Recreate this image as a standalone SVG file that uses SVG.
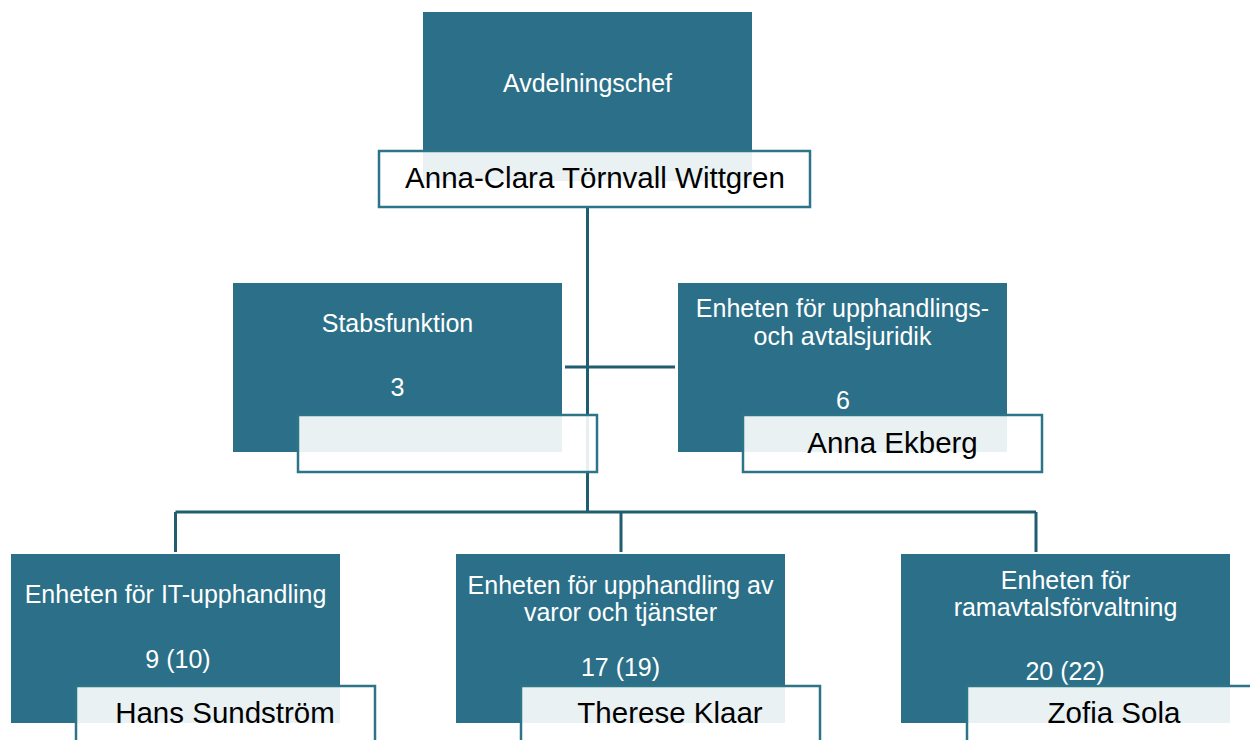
<svg xmlns="http://www.w3.org/2000/svg" width="1250" height="740" viewBox="0 0 1250 740">
<style>
.unit{fill:#2B7088;}
.name{fill:#ffffff;fill-opacity:0.9;stroke:#2C7589;stroke-width:2.5;}
.lbl{font-family:"Liberation Sans",Arial,sans-serif;font-size:25px;fill:#ffffff;text-anchor:middle;}
.nm{font-family:"Liberation Sans",Arial,sans-serif;font-size:29.5px;fill:#000000;text-anchor:middle;}
.conn{stroke:#1F5D6F;stroke-width:3;fill:none;}
</style>
<rect width="1250" height="740" fill="#ffffff"/>
<g id="connectors">
<line class="conn" x1="587.5" y1="207" x2="587.5" y2="512"/>
<line class="conn" x1="565" y1="367" x2="675" y2="367"/>
<line class="conn" x1="175.5" y1="512" x2="1036" y2="512"/>
<line class="conn" x1="175.5" y1="512" x2="175.5" y2="552"/>
<line class="conn" x1="621" y1="512" x2="621" y2="552"/>
<line class="conn" x1="1036" y1="512" x2="1036" y2="552"/>
</g>
<g id="avdelningschef">
<rect class="unit" x="423" y="12" width="329" height="169"/>
<text class="lbl" x="587.5" y="92">Avdelningschef</text>
<rect class="name" x="379" y="151" width="431" height="56"/>
<text class="nm" x="595" y="188">Anna-Clara Törnvall Wittgren</text>
</g>
<g id="stabsfunktion">
<rect class="unit" x="233" y="283" width="329" height="169"/>
<text class="lbl" x="397.5" y="332">Stabsfunktion</text>
<text class="lbl" x="397.5" y="396">3</text>
<rect class="name" x="298" y="415" width="299" height="57"/>
</g>
<g id="juridik">
<rect class="unit" x="678" y="283" width="329" height="169"/>
<text class="lbl" x="842.5" y="317">Enheten för upphandlings-</text>
<text class="lbl" x="842.5" y="345">och avtalsjuridik</text>
<text class="lbl" x="843" y="409">6</text>
<rect class="name" x="743" y="415" width="299" height="57"/>
<text class="nm" x="892.5" y="453">Anna Ekberg</text>
</g>
<g id="it-upphandling">
<rect class="unit" x="11" y="554" width="329" height="169"/>
<text class="lbl" x="175.5" y="603">Enheten för IT-upphandling</text>
<text class="lbl" x="178" y="668">9 (10)</text>
<rect class="name" x="76" y="686" width="299" height="57"/>
<text class="nm" x="225" y="723">Hans Sundström</text>
</g>
<g id="varor-tjanster">
<rect class="unit" x="456" y="554" width="329" height="169"/>
<text class="lbl" x="620.5" y="594">Enheten för upphandling av</text>
<text class="lbl" x="620.5" y="621">varor och tjänster</text>
<text class="lbl" x="620.5" y="676">17 (19)</text>
<rect class="name" x="521" y="686" width="299" height="57"/>
<text class="nm" x="670" y="723">Therese Klaar</text>
</g>
<g id="ramavtal">
<rect class="unit" x="901" y="554" width="329" height="169"/>
<text class="lbl" x="1065.5" y="589">Enheten för</text>
<text class="lbl" x="1065.5" y="616">ramavtalsförvaltning</text>
<text class="lbl" x="1065" y="680">20 (22)</text>
<rect class="name" x="967" y="686" width="299" height="57"/>
<text class="nm" x="1114" y="723">Zofia Sola</text>
</g>
</svg>
